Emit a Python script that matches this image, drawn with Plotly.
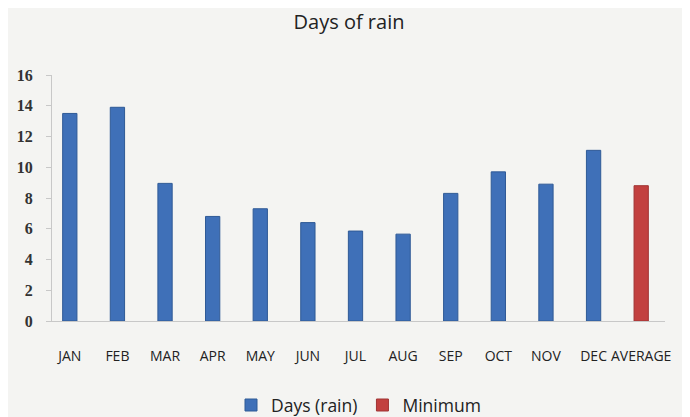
import plotly.graph_objects as go

# values
months = ["JAN", "FEB", "MAR", "APR", "MAY", "JUN", "JUL", "AUG", "SEP", "OCT", "NOV", "DEC"]
rain_days = [13.5, 13.9, 8.95, 6.8, 7.3, 6.4, 5.85, 5.65, 8.3, 9.7, 8.9, 11.1]
average_label = ["AVERAGE"]
average_value = [8.8]
y_ticks = [0, 2, 4, 6, 8, 10, 12, 14, 16]

fig = go.Figure()
fig.add_trace(go.Bar(x=months, y=rain_days, name="Days (rain)",
                     marker=dict(color="#3f70b8", line=dict(color="#2f5a96", width=1))))
fig.add_trace(go.Bar(x=average_label, y=average_value, name="Minimum",
                     marker=dict(color="#c2403f", line=dict(color="#a03434", width=1))))

# page body adds an 8px margin, so the figure is a bit smaller than the window
fig.update_layout(
    width=682, height=409,
    barmode="overlay", bargap=0.7,
    paper_bgcolor="#f4f4f2", plot_bgcolor="#f4f4f2",
    margin=dict(l=44, r=25, t=67, b=96),
    title=dict(text="Days of rain", x=0.5, xanchor="center", y=0.965, yanchor="middle",
               font=dict(family="Open Sans", size=20, color="#222")),
    font=dict(family="Open Sans", color="#222"),
    legend=dict(orientation="h", x=0.5, xanchor="center", yref="container", y=0.029,
                yanchor="middle", font=dict(size=17.5, color="#222"), itemwidth=30,
                bgcolor="rgba(0,0,0,0)"),
    showlegend=True,
)
fig.update_xaxes(categoryorder="array", categoryarray=months + average_label,
                 range=[-0.374, 12.5], tickangle=0,
                 showline=True, linecolor="#c8c8c8", linewidth=1, automargin=False,
                 tickfont=dict(family="Open Sans", size=14, color="#222"),
                 ticklabelstandoff=22, showgrid=False)
fig.update_yaxes(range=[0, 16], tickvals=y_ticks, showgrid=False, zeroline=False,
                 showline=True, linecolor="#c8c8c8", linewidth=1, automargin=False,
                 ticks="outside", ticklen=5, tickcolor="#c8c8c8",
                 tickfont=dict(family="Liberation Serif", size=16, color="#333", weight="bold"),
                 ticklabelstandoff=10)

fig.write_html("out.html")
